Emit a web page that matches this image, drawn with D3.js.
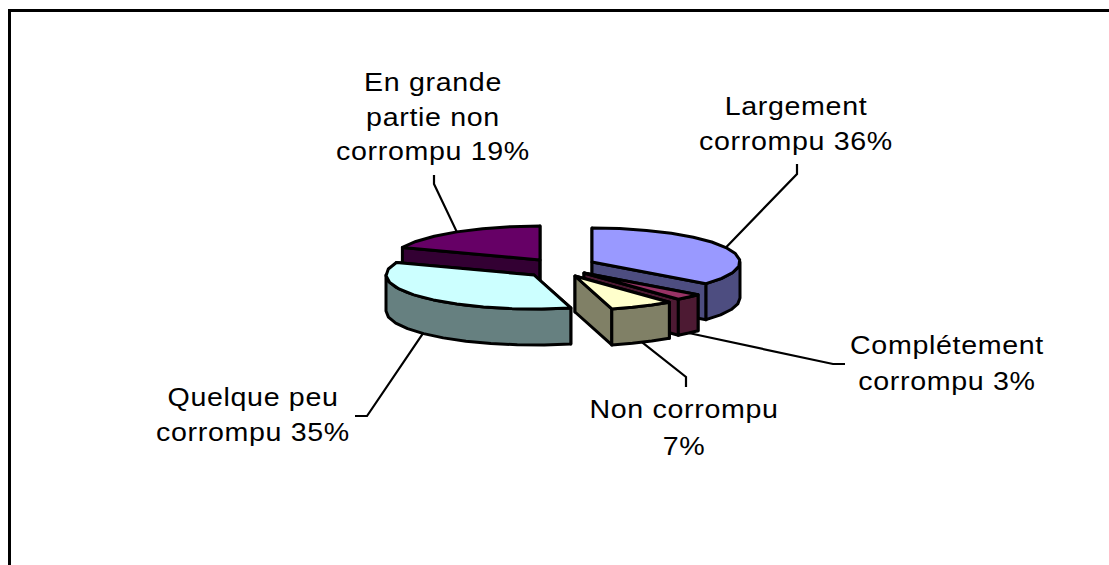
<!DOCTYPE html>
<html>
<head>
<meta charset="utf-8">
<script src="https://cdn.jsdelivr.net/npm/d3@7"></script>
<style>
  html, body { margin: 0; padding: 0; background: #fff; }
  svg { display: block; }
  text { font-family: "Liberation Sans", Arial, sans-serif; fill: #000; }
</style>
</head>
<body>
<svg id="chart" width="1109" height="565"></svg>
<script>
const categories = ['Largement corrompu', 'Complétement corrompu', 'Non corrompu', 'Quelque peu corrompu', 'En grande partie non corrompu'];
const values = [36, 3, 7, 35, 19];
const labelLines = [
  ['Largement', 'corrompu 36%'],
  ['Complétement', 'corrompu 3%'],
  ['Non corrompu', '7%'],
  ['Quelque peu', 'corrompu 35%'],
  ['En grande', 'partie non', 'corrompu 19%']
];
const topColors = ['#9999ff', '#993366', '#ffffcc', '#ccffff', '#660066'];
const sideColors = ['#4d4d80', '#4d1a33', '#808066', '#668080', '#330033'];

// layout
const centres = [[592, 262], [584, 273], [575, 276], [534, 275], [540, 260]];
const labelPos = [[796, 115], [947, 354], [684, 418], [253, 406], [433, 91]];
const lineHeight = [35, 36, 37, 35, 34.5];
const leaderElbow = [[797, 174], [833, 364], [686, 377], [367, 416], [434, 184]];
const leaderEnd = [[797, 164], [845, 364], [686, 387], [355, 416], [434, 175]];
const depth = 36;
const drawOrder = [4, 3, 0, 1, 2];

const svg = d3.select('#chart');
const px = d3.scaleLinear().domain([-1, 1]).range([-148, 148]);
const py = d3.scaleLinear().domain([-1, 1]).range([-34, 34]);

const arcs = d3.pie().sort(null).value(d => d)(values);

const rim = (c, a, drop = 0) => [c[0] + px(Math.sin(a)), c[1] + py(-Math.cos(a)) + drop];
const line = d3.line();
const angles = (a0, a1) => {
  const n = Math.max(2, Math.ceil((a1 - a0) / 0.2));
  return d3.range(n + 1).map(i => a0 + (a1 - a0) * i / n);
};

// frame, the bottom and right sides are cut off in the source
svg.append('path')
  .attr('d', 'M9.5,565V10.5H1109')
  .attr('fill', 'none')
  .attr('stroke', '#000')
  .attr('stroke-width', 3);

// leader lines sit behind the pie
svg.append('g').selectAll('path')
  .data(arcs)
  .join('path')
    .attr('fill', 'none')
    .attr('stroke', '#000')
    .attr('stroke-width', 2.2)
    .attr('d', (d, i) => {
      const mid = (d.startAngle + d.endAngle) / 2;
      const front = Math.cos(mid) < 0;
      return line([rim(centres[i], mid, front ? depth : 0), leaderElbow[i], leaderEnd[i]]);
    });

const slices = svg.append('g')
  .attr('stroke', '#000')
  .attr('stroke-width', 3)
  .attr('stroke-linejoin', 'round');

drawOrder.forEach(i => {
  const d = arcs[i];
  const c = centres[i];
  const g = slices.append('g');

  // two cut walls
  [d.startAngle, d.endAngle].forEach(a => {
    const r = rim(c, a);
    g.append('path')
      .attr('fill', sideColors[i])
      .attr('d', line([c, r, [r[0], r[1] + depth], [c[0], c[1] + depth]]) + 'Z');
  });

  // outer wall, only the front half of the rim shows
  const a0 = Math.max(d.startAngle, Math.PI / 2);
  const a1 = Math.min(d.endAngle, Math.PI * 1.5);
  if (a1 > a0) {
    const as = angles(a0, a1);
    const pts = as.map(a => rim(c, a)).concat(as.slice().reverse().map(a => rim(c, a, depth)));
    g.append('path')
      .attr('fill', sideColors[i])
      .attr('d', line(pts) + 'Z');
  }

  // top face
  g.append('path')
    .attr('fill', topColors[i])
    .attr('d', line([c].concat(angles(d.startAngle, d.endAngle).map(a => rim(c, a)))) + 'Z');
});

// labels are wider than tall in the source, so they get stretched sideways
const labels = svg.append('g')
  .attr('font-size', 26)
  .attr('letter-spacing', 0.6)
  .attr('text-anchor', 'middle');

labelLines.forEach((lines, i) => {
  lines.forEach((txt, j) => {
    labels.append('text')
      .attr('transform', `translate(${labelPos[i][0]},${labelPos[i][1] + j * lineHeight[i]}) scale(1.1,1)`)
      .text(txt);
  });
});
</script>
</body>
</html>
